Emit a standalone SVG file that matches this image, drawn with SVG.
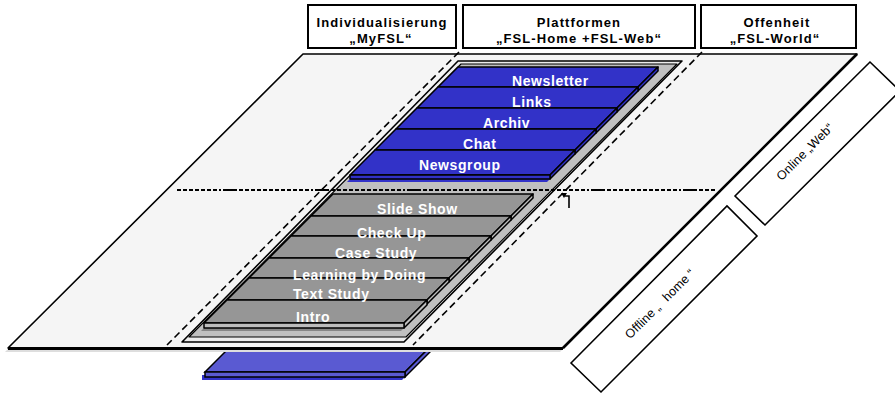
<svg xmlns="http://www.w3.org/2000/svg" width="895" height="394" viewBox="0 0 895 394">
<style>
.hdr{fill:#fff;stroke:#000;stroke-width:2}
.ht{font-family:"Liberation Sans",Arial,sans-serif;font-weight:bold;font-size:13px;letter-spacing:1.1px;fill:#000;text-anchor:middle}
.lbl{font-family:"Liberation Sans",Arial,sans-serif;font-weight:bold;font-size:14px;letter-spacing:0.6px;fill:#fff}
.rt{font-family:"Liberation Sans",Arial,sans-serif;font-size:12.5px;fill:#000;text-anchor:middle;letter-spacing:0.1px}
.blue{fill:#3232c8;stroke:#000;stroke-width:1.5;stroke-linejoin:round}
.gray{fill:#969696;stroke:#000;stroke-width:1.5;stroke-linejoin:round}
.grayf{fill:#bdbdbd;stroke:#000;stroke-width:1.5;stroke-linejoin:round}
.dash{fill:none;stroke:#000;stroke-width:1.6;stroke-dasharray:7 4}
.obox{fill:#fff;stroke:#000;stroke-width:1.6}
</style>

<!-- lower blue slab (partly behind the plane) -->
<g id="base-slab">
  <polygon points="234,343 434,343 402,375 202,375 202,380 402,380 434,348" fill="#3232c8"/>
  <polygon points="237,340 437,340 405,372 205,372" fill="#5a5ad2" stroke="#000" stroke-width="1.5"/>
  <polygon points="437,340 405,372 405,377 437,345" fill="#5a5ad2" stroke="#000" stroke-width="1.5"/>
  <polygon points="205,372 405,372 405,377 205,377" fill="#5a5ad2" stroke="#000" stroke-width="1.5"/>
</g>

<!-- plane -->
<g id="plane">
  <polygon points="300,58 854,58 560,352 5,352" fill="#dedede"/>
  <polygon points="303,54 857,54 563,348 8,348" fill="#f5f5f5" stroke="#000" stroke-width="1.6" stroke-linejoin="round"/>
  <line x1="8" y1="348.5" x2="563" y2="348.5" stroke="#000" stroke-width="3"/>
  <line x1="857" y1="54" x2="563" y2="348" stroke="#000" stroke-width="2.6"/>
</g>

<!-- header boxes -->
<g id="hdr-individualisierung">
  <rect class="hdr" x="308" y="5" width="148" height="43"/>
  <text class="ht" x="382" y="27">Individualisierung</text>
  <text class="ht" x="381" y="43">„MyFSL“</text>
</g>
<g id="hdr-plattformen">
  <rect class="hdr" x="463" y="5" width="232" height="43"/>
  <text class="ht" x="579" y="27">Plattformen</text>
  <text class="ht" x="579" y="43">„FSL-Home +FSL-Web“</text>
</g>
<g id="hdr-offenheit">
  <rect class="hdr" x="701" y="5" width="155" height="43"/>
  <text class="ht" x="777" y="27">Offenheit</text>
  <text class="ht" x="775" y="43">„FSL-World“</text>
</g>

<!-- guide lines -->
<g id="connectors">
  <line class="dash" x1="459" y1="52" x2="167" y2="345"/>
  <line class="dash" x1="702" y1="52" x2="413" y2="345"/>
</g>

<!-- tray -->
<g id="tray">
  <polygon points="458,61 682,61 404,342 182,342" fill="#ececec" stroke="#000" stroke-width="1.6" stroke-linejoin="round"/>
  <polygon points="461,64 677,64 406,337 189,337" fill="#c0c0c0" stroke="#000" stroke-width="1.2" stroke-linejoin="round"/>
</g>

<g id="divider">
  <line x1="177" y1="190" x2="715" y2="190" stroke="#000" stroke-width="2" shape-rendering="crispEdges" stroke-dasharray="4,2,4,2,4,2,4,2,4,2,4,2,4,2,2,2,14,2,4,2,4,2,4,2,4,2,4,2"/>
  <path d="M569,208 V196 H565" fill="none" stroke="#000" stroke-width="1.6"/>
  <polygon points="561,193 567,193 564,198" fill="#000"/>
</g>

<!-- blue stack -->
<g id="blue-stack">
  <polygon points="455,70 659,70 547,182 347,182" fill="#3232c8"/>
  <g id="bar-newsletter">
    <polygon class="blue" points="458,67 658,67 638,87 438,87"/>
    <polygon class="blue" points="658,67 638,87 638,91 658,71"/>
  </g>
  <g id="bar-links">
    <polygon class="blue" points="438,87 638,87 617,108 417,108"/>
    <polygon class="blue" points="638,87 617,108 617,112 638,91"/>
  </g>
  <g id="bar-archiv">
    <polygon class="blue" points="417,108 617,108 596,129 396,129"/>
    <polygon class="blue" points="617,108 596,129 596,133 617,112"/>
  </g>
  <g id="bar-chat">
    <polygon class="blue" points="396,129 596,129 575,150 375,150"/>
    <polygon class="blue" points="596,129 575,150 575,154 596,133"/>
  </g>
  <g id="bar-newsgroup">
    <polygon class="blue" points="375,150 575,150 550,175 350,175"/>
    <polygon class="blue" points="575,150 550,175 550,179 575,154"/>
    <polygon class="blue" points="350,175 550,175 550,179 350,179"/>
  </g>
  <text class="lbl" x="512" y="86">Newsletter</text>
  <text class="lbl" x="512" y="107">Links</text>
  <text class="lbl" x="483" y="128">Archiv</text>
  <text class="lbl" x="463" y="149">Chat</text>
  <text class="lbl" x="419" y="170">Newsgroup</text>
</g>

<!-- gray stack -->
<g id="gray-stack">
  <polygon points="330,197 534,197 401,331 201,331" fill="#878787"/>
  <g id="bar-slideshow">
    <polygon class="gray" points="333,194 533,194 511,216 311,216"/>
    <polygon class="grayf" points="533,194 511,216 511,220 533,198"/>
  </g>
  <g id="bar-checkup">
    <polygon class="gray" points="311,216 511,216 491,236 291,236"/>
    <polygon class="grayf" points="511,216 491,236 491,240 511,220"/>
  </g>
  <g id="bar-casestudy">
    <polygon class="gray" points="291,236 491,236 469,258 269,258"/>
    <polygon class="grayf" points="491,236 469,258 469,262 491,240"/>
  </g>
  <g id="bar-learning">
    <polygon class="gray" points="269,258 469,258 449,278 249,278"/>
    <polygon class="grayf" points="469,258 449,278 449,282 469,262"/>
  </g>
  <g id="bar-textstudy">
    <polygon class="gray" points="249,278 449,278 427,300 227,300"/>
    <polygon class="grayf" points="449,278 427,300 427,304 449,282"/>
  </g>
  <g id="bar-intro">
    <polygon class="gray" points="227,300 427,300 404,323 204,323"/>
    <polygon class="grayf" points="427,300 404,323 404,328 427,305"/>
    <polygon class="grayf" points="204,323 404,323 404,328 204,328"/>
  </g>
  <text class="lbl" x="377" y="214">Slide Show</text>
  <text class="lbl" x="357" y="238">Check Up</text>
  <text class="lbl" x="335" y="258">Case Study</text>
  <text class="lbl" x="293" y="280">Learning by Doing</text>
  <text class="lbl" x="293" y="299">Text Study</text>
  <text class="lbl" x="296" y="322">Intro</text>
</g>

<!-- rotated side boxes -->
<g id="box-online">
  <polygon class="obox" points="735,196 870,62 900,91 765,225"/>
  <text class="rt" transform="translate(805,152) rotate(-45)" x="0" y="4">Online „Web“</text>
</g>
<g id="box-offline">
  <polygon class="obox" points="571,363 727,206 757,236 601,392"/>
  <text class="rt" transform="translate(660,304) rotate(-45)" x="0" y="4">Offline „ <tspan dx="5">home</tspan> “</text>
</g>
</svg>
